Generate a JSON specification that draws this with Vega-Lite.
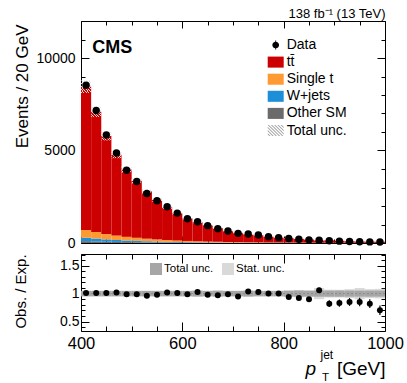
{
  "$schema": "https://vega.github.io/schema/vega-lite/v6.json",
  "padding": {"left": 12, "top": 6, "right": 0, "bottom": 0},
  "datasets": {
    "stack": [
      {"lo":400,"hi":420,"process":"Other SM","y0":0,"y1":101},{"lo":400,"hi":420,"process":"W+jets","y0":101,"y1":287},{"lo":400,"hi":420,"process":"Single t","y0":287,"y1":709},{"lo":400,"hi":420,"process":"tt̄","y0":709,"y1":8446},
      {"lo":420,"hi":440,"process":"Other SM","y0":0,"y1":85},{"lo":420,"hi":440,"process":"W+jets","y0":85,"y1":241},{"lo":420,"hi":440,"process":"Single t","y0":241,"y1":596},{"lo":420,"hi":440,"process":"tt̄","y0":596,"y1":7091},
      {"lo":440,"hi":460,"process":"Other SM","y0":0,"y1":69},{"lo":440,"hi":460,"process":"W+jets","y0":69,"y1":196},{"lo":440,"hi":460,"process":"Single t","y0":196,"y1":485},{"lo":440,"hi":460,"process":"tt̄","y0":485,"y1":5779},
      {"lo":460,"hi":480,"process":"Other SM","y0":0,"y1":57},{"lo":460,"hi":480,"process":"W+jets","y0":57,"y1":162},{"lo":460,"hi":480,"process":"Single t","y0":162,"y1":401},{"lo":460,"hi":480,"process":"tt̄","y0":401,"y1":4773},
      {"lo":480,"hi":500,"process":"Other SM","y0":0,"y1":48},{"lo":480,"hi":500,"process":"W+jets","y0":48,"y1":135},{"lo":480,"hi":500,"process":"Single t","y0":135,"y1":334},{"lo":480,"hi":500,"process":"tt̄","y0":334,"y1":3971},
      {"lo":500,"hi":520,"process":"Other SM","y0":0,"y1":40},{"lo":500,"hi":520,"process":"W+jets","y0":40,"y1":114},{"lo":500,"hi":520,"process":"Single t","y0":114,"y1":282},{"lo":500,"hi":520,"process":"tt̄","y0":282,"y1":3356},
      {"lo":520,"hi":540,"process":"Other SM","y0":0,"y1":33},{"lo":520,"hi":540,"process":"W+jets","y0":33,"y1":94},{"lo":520,"hi":540,"process":"Single t","y0":94,"y1":233},{"lo":520,"hi":540,"process":"tt̄","y0":233,"y1":2788},
      {"lo":540,"hi":560,"process":"Other SM","y0":0,"y1":28},{"lo":540,"hi":560,"process":"W+jets","y0":28,"y1":79},{"lo":540,"hi":560,"process":"Single t","y0":79,"y1":196},{"lo":540,"hi":560,"process":"tt̄","y0":196,"y1":2330},
      {"lo":560,"hi":580,"process":"Other SM","y0":0,"y1":23},{"lo":560,"hi":580,"process":"W+jets","y0":23,"y1":65},{"lo":560,"hi":580,"process":"Single t","y0":65,"y1":161},{"lo":560,"hi":580,"process":"tt̄","y0":161,"y1":1922},
      {"lo":580,"hi":600,"process":"Other SM","y0":0,"y1":19},{"lo":580,"hi":600,"process":"W+jets","y0":19,"y1":54},{"lo":580,"hi":600,"process":"Single t","y0":54,"y1":134},{"lo":580,"hi":600,"process":"tt̄","y0":134,"y1":1600},
      {"lo":600,"hi":620,"process":"Other SM","y0":0,"y1":16},{"lo":600,"hi":620,"process":"W+jets","y0":16,"y1":45},{"lo":600,"hi":620,"process":"Single t","y0":45,"y1":111},{"lo":600,"hi":620,"process":"tt̄","y0":111,"y1":1327},
      {"lo":620,"hi":640,"process":"Other SM","y0":0,"y1":13},{"lo":620,"hi":640,"process":"W+jets","y0":13,"y1":38},{"lo":620,"hi":640,"process":"Single t","y0":38,"y1":94},{"lo":620,"hi":640,"process":"tt̄","y0":94,"y1":1118},
      {"lo":640,"hi":660,"process":"Other SM","y0":0,"y1":11},{"lo":640,"hi":660,"process":"W+jets","y0":11,"y1":32},{"lo":640,"hi":660,"process":"Single t","y0":32,"y1":80},{"lo":640,"hi":660,"process":"tt̄","y0":80,"y1":956},
      {"lo":660,"hi":680,"process":"Other SM","y0":0,"y1":10},{"lo":660,"hi":680,"process":"W+jets","y0":10,"y1":28},{"lo":660,"hi":680,"process":"Single t","y0":28,"y1":68},{"lo":660,"hi":680,"process":"tt̄","y0":68,"y1":799},
      {"lo":680,"hi":700,"process":"Other SM","y0":0,"y1":8},{"lo":680,"hi":700,"process":"W+jets","y0":8,"y1":22},{"lo":680,"hi":700,"process":"Single t","y0":22,"y1":55},{"lo":680,"hi":700,"process":"tt̄","y0":55,"y1":653},
      {"lo":700,"hi":720,"process":"Other SM","y0":0,"y1":7},{"lo":700,"hi":720,"process":"W+jets","y0":7,"y1":19},{"lo":700,"hi":720,"process":"Single t","y0":19,"y1":46},{"lo":700,"hi":720,"process":"tt̄","y0":46,"y1":549},
      {"lo":720,"hi":740,"process":"Other SM","y0":0,"y1":6},{"lo":720,"hi":740,"process":"W+jets","y0":6,"y1":16},{"lo":720,"hi":740,"process":"Single t","y0":16,"y1":39},{"lo":720,"hi":740,"process":"tt̄","y0":39,"y1":466},
      {"lo":740,"hi":760,"process":"Other SM","y0":0,"y1":5},{"lo":740,"hi":760,"process":"W+jets","y0":5,"y1":14},{"lo":740,"hi":760,"process":"Single t","y0":14,"y1":35},{"lo":740,"hi":760,"process":"tt̄","y0":35,"y1":418},
      {"lo":760,"hi":780,"process":"Other SM","y0":0,"y1":4},{"lo":760,"hi":780,"process":"W+jets","y0":4,"y1":11},{"lo":760,"hi":780,"process":"Single t","y0":11,"y1":28},{"lo":760,"hi":780,"process":"tt̄","y0":28,"y1":340},
      {"lo":780,"hi":800,"process":"Other SM","y0":0,"y1":3},{"lo":780,"hi":800,"process":"W+jets","y0":3,"y1":9},{"lo":780,"hi":800,"process":"Single t","y0":9,"y1":24},{"lo":780,"hi":800,"process":"tt̄","y0":24,"y1":290},
      {"lo":800,"hi":820,"process":"Other SM","y0":0,"y1":3},{"lo":800,"hi":820,"process":"W+jets","y0":3,"y1":9},{"lo":800,"hi":820,"process":"Single t","y0":9,"y1":22},{"lo":800,"hi":820,"process":"tt̄","y0":22,"y1":261},
      {"lo":820,"hi":840,"process":"Other SM","y0":0,"y1":3},{"lo":820,"hi":840,"process":"W+jets","y0":3,"y1":8},{"lo":820,"hi":840,"process":"Single t","y0":8,"y1":19},{"lo":820,"hi":840,"process":"tt̄","y0":19,"y1":223},
      {"lo":840,"hi":860,"process":"Other SM","y0":0,"y1":2},{"lo":840,"hi":860,"process":"W+jets","y0":2,"y1":6},{"lo":840,"hi":860,"process":"Single t","y0":6,"y1":15},{"lo":840,"hi":860,"process":"tt̄","y0":15,"y1":189},
      {"lo":860,"hi":880,"process":"Other SM","y0":0,"y1":2},{"lo":860,"hi":880,"process":"W+jets","y0":2,"y1":5},{"lo":860,"hi":880,"process":"Single t","y0":5,"y1":12},{"lo":860,"hi":880,"process":"tt̄","y0":12,"y1":137},
      {"lo":880,"hi":900,"process":"Other SM","y0":0,"y1":2},{"lo":880,"hi":900,"process":"W+jets","y0":2,"y1":5},{"lo":880,"hi":900,"process":"Single t","y0":5,"y1":12},{"lo":880,"hi":900,"process":"tt̄","y0":12,"y1":146},
      {"lo":900,"hi":920,"process":"Other SM","y0":0,"y1":1},{"lo":900,"hi":920,"process":"W+jets","y0":1,"y1":4},{"lo":900,"hi":920,"process":"Single t","y0":4,"y1":10},{"lo":900,"hi":920,"process":"tt̄","y0":10,"y1":120},
      {"lo":920,"hi":940,"process":"Other SM","y0":0,"y1":1},{"lo":920,"hi":940,"process":"W+jets","y0":1,"y1":3},{"lo":920,"hi":940,"process":"Single t","y0":3,"y1":8},{"lo":920,"hi":940,"process":"tt̄","y0":8,"y1":100},
      {"lo":940,"hi":960,"process":"Other SM","y0":0,"y1":1},{"lo":940,"hi":960,"process":"W+jets","y0":1,"y1":3},{"lo":940,"hi":960,"process":"Single t","y0":3,"y1":7},{"lo":940,"hi":960,"process":"tt̄","y0":7,"y1":82},
      {"lo":960,"hi":980,"process":"Other SM","y0":0,"y1":1},{"lo":960,"hi":980,"process":"W+jets","y0":1,"y1":3},{"lo":960,"hi":980,"process":"Single t","y0":3,"y1":7},{"lo":960,"hi":980,"process":"tt̄","y0":7,"y1":73},
      {"lo":980,"hi":1000,"process":"Other SM","y0":0,"y1":1},{"lo":980,"hi":1000,"process":"W+jets","y0":1,"y1":3},{"lo":980,"hi":1000,"process":"Single t","y0":3,"y1":7},{"lo":980,"hi":1000,"process":"tt̄","y0":7,"y1":71}
    ],
    "bins": [
      {"lo":400,"hi":420,"c":410,"data":8530,"mcl":8108,"mch":8784,"ratio":1.01,"rl":0.998,"rh":1.022},
      {"lo":420,"hi":440,"c":430,"data":7162,"mcl":6807,"mch":7375,"ratio":1.01,"rl":0.998,"rh":1.022},
      {"lo":440,"hi":460,"c":450,"data":5837,"mcl":5548,"mch":6010,"ratio":1.01,"rl":0.998,"rh":1.022},
      {"lo":460,"hi":480,"c":470,"data":4868,"mcl":4582,"mch":4964,"ratio":1.02,"rl":1.008,"rh":1.032},
      {"lo":480,"hi":500,"c":490,"data":3931,"mcl":3812,"mch":4130,"ratio":0.99,"rl":0.978,"rh":1.002},
      {"lo":500,"hi":520,"c":510,"data":3322,"mcl":3222,"mch":3490,"ratio":0.99,"rl":0.978,"rh":1.002},
      {"lo":520,"hi":540,"c":530,"data":2676,"mcl":2676,"mch":2900,"ratio":0.96,"rl":0.948,"rh":0.972},
      {"lo":540,"hi":560,"c":550,"data":2283,"mcl":2237,"mch":2423,"ratio":0.98,"rl":0.968,"rh":0.992},
      {"lo":560,"hi":580,"c":570,"data":1960,"mcl":1845,"mch":1999,"ratio":1.02,"rl":1.008,"rh":1.032},
      {"lo":580,"hi":600,"c":590,"data":1616,"mcl":1536,"mch":1664,"ratio":1.01,"rl":0.998,"rh":1.022},
      {"lo":600,"hi":620,"c":610,"data":1314,"mcl":1274,"mch":1380,"ratio":0.99,"rl":0.975,"rh":1.005},
      {"lo":620,"hi":640,"c":630,"data":1152,"mcl":1073,"mch":1163,"ratio":1.03,"rl":1.015,"rh":1.045},
      {"lo":640,"hi":660,"c":650,"data":937,"mcl":918,"mch":994,"ratio":0.98,"rl":0.965,"rh":0.995},
      {"lo":660,"hi":680,"c":670,"data":775,"mcl":767,"mch":831,"ratio":0.97,"rl":0.955,"rh":0.985},
      {"lo":680,"hi":700,"c":690,"data":646,"mcl":627,"mch":679,"ratio":0.99,"rl":0.975,"rh":1.005},
      {"lo":700,"hi":720,"c":710,"data":522,"mcl":522,"mch":576,"ratio":0.95,"rl":0.93,"rh":0.97},
      {"lo":720,"hi":740,"c":730,"data":485,"mcl":443,"mch":489,"ratio":1.04,"rl":1.02,"rh":1.06},
      {"lo":740,"hi":760,"c":750,"data":431,"mcl":397,"mch":439,"ratio":1.03,"rl":1.01,"rh":1.05},
      {"lo":760,"hi":780,"c":770,"data":340,"mcl":323,"mch":357,"ratio":1.0,"rl":0.98,"rh":1.02},
      {"lo":780,"hi":800,"c":790,"data":290,"mcl":276,"mch":305,"ratio":1.0,"rl":0.98,"rh":1.02},
      {"lo":800,"hi":820,"c":810,"data":245,"mcl":248,"mch":274,"ratio":0.94,"rl":0.91,"rh":0.97},
      {"lo":820,"hi":840,"c":830,"data":205,"mcl":212,"mch":234,"ratio":0.92,"rl":0.885,"rh":0.955},
      {"lo":840,"hi":860,"c":850,"data":170,"mcl":180,"mch":198,"ratio":0.9,"rl":0.86,"rh":0.94},
      {"lo":860,"hi":880,"c":870,"data":145,"mcl":130,"mch":144,"ratio":1.06,"rl":1.015,"rh":1.105},
      {"lo":880,"hi":900,"c":890,"data":120,"mcl":139,"mch":153,"ratio":0.82,"rl":0.76,"rh":0.88},
      {"lo":900,"hi":920,"c":910,"data":100,"mcl":112,"mch":128,"ratio":0.83,"rl":0.765,"rh":0.895},
      {"lo":920,"hi":940,"c":930,"data":85,"mcl":93,"mch":107,"ratio":0.85,"rl":0.78,"rh":0.92},
      {"lo":940,"hi":960,"c":950,"data":70,"mcl":76,"mch":88,"ratio":0.85,"rl":0.775,"rh":0.925},
      {"lo":960,"hi":980,"c":970,"data":60,"mcl":68,"mch":78,"ratio":0.82,"rl":0.74,"rh":0.9},
      {"lo":980,"hi":1000,"c":990,"data":50,"mcl":66,"mch":76,"ratio":0.7,"rl":0.615,"rh":0.785}
    ],
    "bands": [
      {"lo":400,"hi":420,"band":"Stat. unc.","bl":0.97,"bh":1.03},{"lo":420,"hi":440,"band":"Stat. unc.","bl":0.97,"bh":1.03},{"lo":440,"hi":460,"band":"Stat. unc.","bl":0.97,"bh":1.03},{"lo":460,"hi":480,"band":"Stat. unc.","bl":0.97,"bh":1.03},{"lo":480,"hi":500,"band":"Stat. unc.","bl":0.97,"bh":1.03},
      {"lo":500,"hi":520,"band":"Stat. unc.","bl":0.97,"bh":1.03},{"lo":520,"hi":540,"band":"Stat. unc.","bl":0.97,"bh":1.03},{"lo":540,"hi":560,"band":"Stat. unc.","bl":0.97,"bh":1.03},{"lo":560,"hi":580,"band":"Stat. unc.","bl":0.97,"bh":1.03},{"lo":580,"hi":600,"band":"Stat. unc.","bl":0.97,"bh":1.03},
      {"lo":600,"hi":620,"band":"Stat. unc.","bl":0.97,"bh":1.03},{"lo":620,"hi":640,"band":"Stat. unc.","bl":0.94,"bh":1.06},{"lo":640,"hi":660,"band":"Stat. unc.","bl":0.97,"bh":1.03},{"lo":660,"hi":680,"band":"Stat. unc.","bl":0.94,"bh":1.06},{"lo":680,"hi":700,"band":"Stat. unc.","bl":0.965,"bh":1.035},
      {"lo":700,"hi":720,"band":"Stat. unc.","bl":0.965,"bh":1.035},{"lo":720,"hi":740,"band":"Stat. unc.","bl":0.94,"bh":1.06},{"lo":740,"hi":760,"band":"Stat. unc.","bl":0.965,"bh":1.035},{"lo":760,"hi":780,"band":"Stat. unc.","bl":0.965,"bh":1.035},{"lo":780,"hi":800,"band":"Stat. unc.","bl":0.965,"bh":1.035},
      {"lo":800,"hi":820,"band":"Stat. unc.","bl":0.95,"bh":1.05},{"lo":820,"hi":840,"band":"Stat. unc.","bl":0.935,"bh":1.065},{"lo":840,"hi":860,"band":"Stat. unc.","bl":0.95,"bh":1.05},{"lo":860,"hi":880,"band":"Stat. unc.","bl":0.9,"bh":1.1},{"lo":880,"hi":900,"band":"Stat. unc.","bl":0.93,"bh":1.07},
      {"lo":900,"hi":920,"band":"Stat. unc.","bl":0.93,"bh":1.07},{"lo":920,"hi":940,"band":"Stat. unc.","bl":0.92,"bh":1.08},{"lo":940,"hi":960,"band":"Stat. unc.","bl":0.9,"bh":1.1},{"lo":960,"hi":980,"band":"Stat. unc.","bl":0.92,"bh":1.08},{"lo":980,"hi":1000,"band":"Stat. unc.","bl":0.915,"bh":1.085},
      {"lo":400,"hi":420,"band":"Total unc.","bl":0.95,"bh":1.05},{"lo":420,"hi":440,"band":"Total unc.","bl":0.95,"bh":1.05},{"lo":440,"hi":460,"band":"Total unc.","bl":0.95,"bh":1.05},{"lo":460,"hi":480,"band":"Total unc.","bl":0.95,"bh":1.05},{"lo":480,"hi":500,"band":"Total unc.","bl":0.95,"bh":1.05},
      {"lo":500,"hi":520,"band":"Total unc.","bl":0.95,"bh":1.05},{"lo":520,"hi":540,"band":"Total unc.","bl":0.95,"bh":1.05},{"lo":540,"hi":560,"band":"Total unc.","bl":0.95,"bh":1.05},{"lo":560,"hi":580,"band":"Total unc.","bl":0.95,"bh":1.05},{"lo":580,"hi":600,"band":"Total unc.","bl":0.95,"bh":1.05},
      {"lo":600,"hi":620,"band":"Total unc.","bl":0.95,"bh":1.05},{"lo":620,"hi":640,"band":"Total unc.","bl":0.95,"bh":1.05},{"lo":640,"hi":660,"band":"Total unc.","bl":0.95,"bh":1.05},{"lo":660,"hi":680,"band":"Total unc.","bl":0.95,"bh":1.05},{"lo":680,"hi":700,"band":"Total unc.","bl":0.95,"bh":1.05},
      {"lo":700,"hi":720,"band":"Total unc.","bl":0.95,"bh":1.05},{"lo":720,"hi":740,"band":"Total unc.","bl":0.95,"bh":1.05},{"lo":740,"hi":760,"band":"Total unc.","bl":0.95,"bh":1.05},{"lo":760,"hi":780,"band":"Total unc.","bl":0.95,"bh":1.05},{"lo":780,"hi":800,"band":"Total unc.","bl":0.95,"bh":1.05},
      {"lo":800,"hi":820,"band":"Total unc.","bl":0.945,"bh":1.055},{"lo":820,"hi":840,"band":"Total unc.","bl":0.945,"bh":1.055},{"lo":840,"hi":860,"band":"Total unc.","bl":0.945,"bh":1.055},{"lo":860,"hi":880,"band":"Total unc.","bl":0.945,"bh":1.055},{"lo":880,"hi":900,"band":"Total unc.","bl":0.945,"bh":1.055},
      {"lo":900,"hi":920,"band":"Total unc.","bl":0.945,"bh":1.055},{"lo":920,"hi":940,"band":"Total unc.","bl":0.945,"bh":1.055},{"lo":940,"hi":960,"band":"Total unc.","bl":0.945,"bh":1.055},{"lo":960,"hi":980,"band":"Total unc.","bl":0.945,"bh":1.055},{"lo":980,"hi":1000,"band":"Total unc.","bl":0.945,"bh":1.055}
    ]
  },
  "bounds": "flush",
  "spacing": 11,
  "vconcat": [
    {
      "width": 304,
      "height": 222,
      "layer": [
        {
          "data": {"name": "stack"},
          "mark": {"type": "rect", "strokeWidth": 0},
          "encoding": {
            "x": {"field": "lo", "type": "quantitative", "scale": {"domain": [400, 1000], "nice": false, "zero": false},
                  "axis": {"orient": "bottom", "values": [400,450,500,550,600,650,700,750,800,850,900,950,1000], "labels": false, "title": null,
                           "tickSize": {"condition": {"test": "datum.value % 200 === 0", "value": -7}, "value": -4}}},
            "x2": {"field": "hi"},
            "y": {"field": "y0", "type": "quantitative", "scale": {"domain": [0, 12000], "nice": false},
                  "axis": {"orient": "left", "values": [0,1000,2000,3000,4000,5000,6000,7000,8000,9000,10000,11000,12000],
                           "labelExpr": "datum.value % 5000 === 0 ? format(datum.value, 'd') : ''", "labelFontSize": 14, "labelPadding": 14,
                           "tickSize": {"condition": {"test": "datum.value % 5000 === 0", "value": -8}, "value": -4},
                           "title": "Events / 20 GeV", "titleFontSize": 17, "titleX": -54, "titleY": 3, "titleAlign": "right", "titleBaseline": "alphabetic", "titleAngle": 270}},
            "y2": {"field": "y1"},
            "color": {"field": "process", "type": "nominal",
                      "scale": {"domain": ["Data", "tt̄", "Single t", "W+jets", "Other SM", "Total unc."], "range": ["#000000", "#cc0000", "#ff9a33", "#1c8fd8", "#6b6b6b", "#a0a0a0"]},
                      "legend": {"orient": "none", "legendX": 186.7, "legendY": 16, "title": null, "symbolSize": 256, "symbolOpacity": 1, "labelFontSize": 14, "labelOffset": 3, "rowPadding": 2.1, "padding": 0, "symbolStrokeWidth": 0, "labelLimit": 200}}
          }
        },
        {
          "data": {"name": "bins"},
          "mark": {"type": "rect", "fill": {"gradient": "linear", "x1": 0, "y1": 1, "x2": 1, "y2": 0, "stops": [
            {"offset": 0, "color": "rgba(225,225,225,0.95)"}, {"offset": 0.05, "color": "rgba(225,225,225,0.95)"}, {"offset": 0.05, "color": "rgba(255,255,255,0)"}, {"offset": 0.125, "color": "rgba(255,255,255,0)"},
            {"offset": 0.125, "color": "rgba(225,225,225,0.95)"}, {"offset": 0.175, "color": "rgba(225,225,225,0.95)"}, {"offset": 0.175, "color": "rgba(255,255,255,0)"}, {"offset": 0.25, "color": "rgba(255,255,255,0)"},
            {"offset": 0.25, "color": "rgba(225,225,225,0.95)"}, {"offset": 0.3, "color": "rgba(225,225,225,0.95)"}, {"offset": 0.3, "color": "rgba(255,255,255,0)"}, {"offset": 0.375, "color": "rgba(255,255,255,0)"},
            {"offset": 0.375, "color": "rgba(225,225,225,0.95)"}, {"offset": 0.425, "color": "rgba(225,225,225,0.95)"}, {"offset": 0.425, "color": "rgba(255,255,255,0)"}, {"offset": 0.5, "color": "rgba(255,255,255,0)"},
            {"offset": 0.5, "color": "rgba(225,225,225,0.95)"}, {"offset": 0.55, "color": "rgba(225,225,225,0.95)"}, {"offset": 0.55, "color": "rgba(255,255,255,0)"}, {"offset": 0.625, "color": "rgba(255,255,255,0)"},
            {"offset": 0.625, "color": "rgba(225,225,225,0.95)"}, {"offset": 0.675, "color": "rgba(225,225,225,0.95)"}, {"offset": 0.675, "color": "rgba(255,255,255,0)"}, {"offset": 0.75, "color": "rgba(255,255,255,0)"},
            {"offset": 0.75, "color": "rgba(225,225,225,0.95)"}, {"offset": 0.8, "color": "rgba(225,225,225,0.95)"}, {"offset": 0.8, "color": "rgba(255,255,255,0)"}, {"offset": 0.875, "color": "rgba(255,255,255,0)"},
            {"offset": 0.875, "color": "rgba(225,225,225,0.95)"}, {"offset": 0.925, "color": "rgba(225,225,225,0.95)"}, {"offset": 0.925, "color": "rgba(255,255,255,0)"}, {"offset": 1, "color": "rgba(255,255,255,0)"}
          ]}},
          "encoding": {
            "x": {"field": "lo", "type": "quantitative", "scale": {"domain": [400, 1000], "nice": false, "zero": false},
                  "axis": {"orient": "top", "values": [400,450,500,550,600,650,700,750,800,850,900,950,1000], "labels": false,
                           "tickSize": {"condition": {"test": "datum.value % 200 === 0", "value": -7}, "value": -4},
                           "title": "138 fb⁻¹ (13 TeV)", "titleFontSize": 13, "titleX": 304, "titleY": -4, "titleAlign": "right", "titleBaseline": "alphabetic", "titleAngle": 0}},
            "x2": {"field": "hi"},
            "y": {"field": "mcl", "type": "quantitative", "scale": {"domain": [0, 12000], "nice": false},
                  "axis": {"orient": "right", "values": [0,1000,2000,3000,4000,5000,6000,7000,8000,9000,10000,11000,12000], "labels": false, "title": null,
                           "tickSize": {"condition": {"test": "datum.value % 5000 === 0", "value": -8}, "value": -4}}},
            "y2": {"field": "mch"}
          }
        },
        {
          "data": {"name": "bins"},
          "mark": {"type": "circle", "color": "#000000", "size": 55, "opacity": 1},
          "encoding": {
            "x": {"field": "c", "type": "quantitative", "scale": {"domain": [400, 1000], "nice": false, "zero": false}, "axis": null},
            "y": {"field": "data", "type": "quantitative", "scale": {"domain": [0, 12000], "nice": false}, "axis": null}
          }
        },
        {
          "data": {"name": "stack"},
          "mark": {"type": "point", "filled": true, "opacity": 0},
          "encoding": {
            "x": {"field": "lo", "type": "quantitative", "scale": {"domain": [400, 1000], "nice": false, "zero": false}, "axis": null},
            "y": {"field": "y1", "type": "quantitative", "scale": {"domain": [0, 12000], "nice": false}, "axis": null},
            "color": {"field": "process", "type": "nominal"},
            "shape": {"field": "process", "type": "nominal",
                      "scale": {"domain": ["Data", "tt̄", "Single t", "W+jets", "Other SM", "Total unc."],
                                "range": ["M-0.06,-0.55H0.06V0.55H-0.06ZM-0.42,0A0.42,0.42,0,1,1,0.42,0A0.42,0.42,0,1,1,-0.42,0Z",
                                          "M-1,-0.69H1V0.69H-1Z", "M-1,-0.69H1V0.69H-1Z", "M-1,-0.69H1V0.69H-1Z", "M-1,-0.69H1V0.69H-1Z",
                                          "M-1,0.34L-0.64,0.7L-0.8,0.7L-1,0.5ZM-1,-0.06L-0.24,0.7L-0.4,0.7L-1,0.1ZM-1,-0.46L0.16,0.7L0,0.7L-1,-0.3ZM-1,-0.7L-0.84,-0.7L0.56,0.7L0.4,0.7ZM-0.6,-0.7L-0.44,-0.7L0.96,0.7L0.8,0.7ZM-0.2,-0.7L-0.04,-0.7L1,0.34L1,0.5ZM0.2,-0.7L0.36,-0.7L1,-0.06L1,0.1ZM0.6,-0.7L0.76,-0.7L1,-0.46L1,-0.3Z"]},
                      "legend": {"orient": "none", "legendX": 186.7, "legendY": 16, "title": null, "symbolSize": 256, "symbolOpacity": 1, "labelFontSize": 14, "labelOffset": 3, "rowPadding": 2.1, "padding": 0, "symbolStrokeWidth": 0, "labelLimit": 200}}
          }
        },
        {
          "data": {"values": [{}]},
          "mark": {"type": "text", "text": "CMS", "fontSize": 18, "fontWeight": "bold", "align": "left", "baseline": "alphabetic", "font": "Liberation Sans", "color": "#000000"},
          "encoding": {
            "x": {"datum": 422, "type": "quantitative", "axis": null},
            "y": {"datum": 10270, "type": "quantitative", "axis": null}
          }
        }
      ],
      "resolve": {"axis": {"x": "independent", "y": "independent"}}
    },
    {
      "width": 304,
      "height": 77,
      "layer": [
        {
          "data": {"name": "bands"},
          "mark": {"type": "rect", "strokeWidth": 0},
          "encoding": {
            "x": {"field": "lo", "type": "quantitative", "scale": {"domain": [400, 1000], "nice": false, "zero": false},
                  "axis": {"orient": "bottom", "values": [400,450,500,550,600,650,700,750,800,850,900,950,1000],
                           "labelExpr": "datum.value % 200 === 0 ? format(datum.value, 'd') : ''", "labelFontSize": 16.5, "labelPadding": 13,
                           "tickSize": {"condition": {"test": "datum.value % 200 === 0", "value": -9}, "value": -5},
                           "title": "[GeV]", "titleFontSize": 19, "titleX": 304, "titleY": 43, "titleAlign": "right", "titleBaseline": "alphabetic"}},
            "x2": {"field": "hi"},
            "y": {"field": "bl", "type": "quantitative", "scale": {"domain": [0.33, 1.71], "nice": false, "zero": false},
                  "axis": {"orient": "left", "values": [0.4,0.5,0.6,0.7,0.8,0.9,1,1.1,1.2,1.3,1.4,1.5,1.6,1.7],
                           "labelExpr": "abs(datum.value*2 - round(datum.value*2)) < 0.01 ? format(datum.value, '~g') : ''", "labelFontSize": 14, "labelPadding": 10,
                           "tickSize": {"condition": {"test": "abs(datum.value*2 - round(datum.value*2)) < 0.01", "value": -8}, "value": -4},
                           "title": "Obs. / Exp.", "titleFontSize": 15, "titleX": -56, "titleY": 37, "titleAlign": "center", "titleBaseline": "alphabetic", "titleAngle": 270}},
            "y2": {"field": "bh"},
            "color": {"field": "band", "type": "nominal", "sort": null,
                      "scale": {"domain": ["Total unc.", "Stat. unc."], "range": ["#a6a6a6", "#d9d9d9"]},
                      "legend": {"orient": "none", "legendX": 69, "legendY": 9, "direction": "horizontal", "title": null, "symbolType": "square", "symbolSize": 144, "labelFontSize": 11.5, "labelOffset": 2, "columnPadding": 8, "padding": 0, "symbolStrokeWidth": 0}}
          }
        },
        {
          "data": {"values": [{}]},
          "mark": {"type": "rule", "color": "#8c8c8c", "strokeDash": [2, 2], "strokeWidth": 1},
          "encoding": {"y": {"datum": 1, "type": "quantitative", "scale": {"domain": [0.33, 1.71], "nice": false, "zero": false}, "axis": null}}
        },
        {
          "data": {"name": "bins"},
          "mark": {"type": "rule", "color": "#000000", "strokeWidth": 1.2},
          "encoding": {
            "x": {"field": "c", "type": "quantitative", "scale": {"domain": [400, 1000], "nice": false, "zero": false},
                  "axis": {"orient": "top", "values": [400,450,500,550,600,650,700,750,800,850,900,950,1000], "labels": false, "title": null,
                           "tickSize": {"condition": {"test": "datum.value % 200 === 0", "value": -9}, "value": -5}}},
            "y": {"field": "rl", "type": "quantitative", "scale": {"domain": [0.33, 1.71], "nice": false, "zero": false},
                  "axis": {"orient": "right", "values": [0.4,0.5,0.6,0.7,0.8,0.9,1,1.1,1.2,1.3,1.4,1.5,1.6,1.7], "labels": false, "title": null,
                           "tickSize": {"condition": {"test": "abs(datum.value*2 - round(datum.value*2)) < 0.01", "value": -8}, "value": -4}}},
            "y2": {"field": "rh"}
          }
        },
        {
          "data": {"name": "bins"},
          "mark": {"type": "circle", "color": "#000000", "size": 36, "opacity": 1},
          "encoding": {
            "x": {"field": "c", "type": "quantitative", "scale": {"domain": [400, 1000], "nice": false, "zero": false},
                  "axis": {"orient": "bottom", "labels": false, "ticks": false, "domain": false, "title": "p", "titleFontStyle": "italic", "titleFontSize": 19, "titleX": 224, "titleY": 43, "titleAlign": "left", "titleBaseline": "alphabetic"}},
            "y": {"field": "ratio", "type": "quantitative", "scale": {"domain": [0.33, 1.71], "nice": false, "zero": false}, "axis": null}
          }
        },
        {
          "data": {"name": "bins"},
          "mark": {"type": "point", "opacity": 0},
          "encoding": {
            "x": {"field": "c", "type": "quantitative", "scale": {"domain": [400, 1000], "nice": false, "zero": false},
                  "axis": {"orient": "bottom", "labels": false, "ticks": false, "domain": false, "title": "jet", "titleFontSize": 12, "titleX": 239, "titleY": 27, "titleAlign": "left", "titleBaseline": "alphabetic"}},
            "y": {"field": "ratio", "type": "quantitative", "scale": {"domain": [0.33, 1.71], "nice": false, "zero": false}, "axis": null}
          }
        },
        {
          "data": {"name": "bins"},
          "mark": {"type": "point", "opacity": 0},
          "encoding": {
            "x": {"field": "c", "type": "quantitative", "scale": {"domain": [400, 1000], "nice": false, "zero": false},
                  "axis": {"orient": "bottom", "labels": false, "ticks": false, "domain": false, "title": "T", "titleFontSize": 11.5, "titleX": 240.5, "titleY": 49, "titleAlign": "left", "titleBaseline": "alphabetic"}},
            "y": {"field": "ratio", "type": "quantitative", "scale": {"domain": [0.33, 1.71], "nice": false, "zero": false}, "axis": null}
          }
        }
      ],
      "resolve": {"axis": {"x": "independent", "y": "independent"}}
    }
  ],
  "resolve": {"scale": {"color": "independent", "shape": "independent"}, "legend": {"color": "independent", "shape": "independent"}},
  "config": {
    "font": "Liberation Sans",
    "view": {"stroke": "#000000", "strokeWidth": 1},
    "axis": {"domain": false, "grid": false, "tickColor": "#000000", "tickWidth": 1, "labelColor": "#000000", "titleColor": "#000000", "titleFontWeight": "normal",
             "labelFont": "Liberation Sans", "titleFont": "Liberation Sans", "labelOverlap": false, "labelFlush": false, "labelBound": false},
    "legend": {"labelFont": "Liberation Sans", "labelColor": "#000000"}
  }
}
